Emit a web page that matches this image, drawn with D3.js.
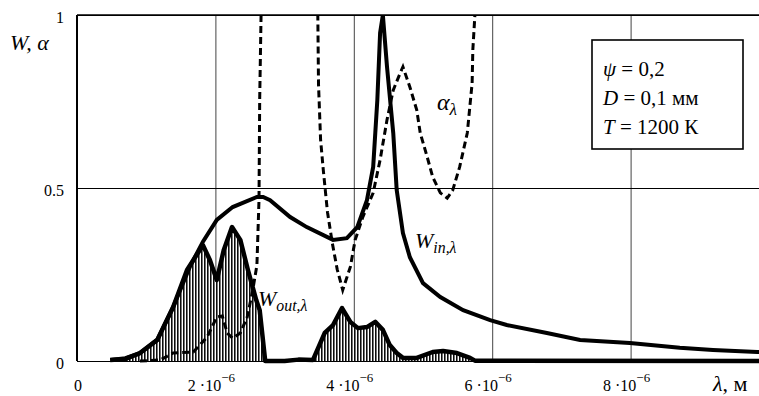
<!DOCTYPE html>
<html>
<head>
<meta charset="utf-8">
<script src="https://cdn.jsdelivr.net/npm/d3@7"></script>
<style>
  body { margin: 0; background: #fff; }
  svg { display: block; }
</style>
</head>
<body>
<svg id="chart" width="759" height="396"></svg>
<script>
// wavelength in micrometres (axis labels show k·10^-6 m)
const lambdaIn = [0.48, 0.7, 0.91, 1.16, 1.39, 1.63, 1.82, 2.02, 2.25, 2.6, 2.69, 2.79, 3.08, 3.32, 3.7, 3.9, 4.05, 4.19, 4.28, 4.34, 4.38, 4.42, 4.48, 4.57, 4.62, 4.71, 4.81, 5.0, 5.25, 5.58, 5.97, 6.21, 6.79, 7.27, 7.99, 8.71, 9.19, 9.83, 9.9];
const wIn = [0.003, 0.008, 0.023, 0.061, 0.156, 0.272, 0.345, 0.408, 0.445, 0.474, 0.474, 0.465, 0.416, 0.387, 0.35, 0.355, 0.387, 0.465, 0.561, 0.754, 0.948, 1.0, 0.85, 0.659, 0.494, 0.37, 0.3, 0.225, 0.185, 0.147, 0.118, 0.104, 0.081, 0.061, 0.052, 0.038, 0.032, 0.026, 0.026];

const lambdaOut = [0.48, 0.7, 0.91, 1.16, 1.39, 1.59, 1.82, 1.92, 2.02, 2.12, 2.24, 2.36, 2.47, 2.59, 2.64, 2.72, 3.0, 3.2, 3.41, 3.58, 3.7, 3.83, 3.95, 4.06, 4.19, 4.31, 4.42, 4.52, 4.62, 4.71, 4.91, 5.14, 5.29, 5.49, 5.68, 5.75, 9.9];
const wOut = [0.003, 0.006, 0.023, 0.061, 0.156, 0.263, 0.335, 0.292, 0.234, 0.32, 0.387, 0.35, 0.263, 0.176, 0.147, 0, 0, 0.004, 0.003, 0.081, 0.104, 0.153, 0.113, 0.095, 0.098, 0.113, 0.09, 0.046, 0.023, 0.009, 0.009, 0.026, 0.029, 0.023, 0.009, 0.001, 0];

// alpha leaves the frame between the two branches (null = gap)
const lambdaAlpha = [0.91, 1.2, 1.39, 1.68, 1.88, 2.02, 2.1, 2.17, 2.25, 2.36, 2.46, 2.54, 2.6, 2.63, 2.64, 2.66, 2.68, 3.0,
  3.47, 3.48, 3.49, 3.52, 3.56, 3.62, 3.69, 3.76, 3.84, 3.95, 4.02, 4.13, 4.28, 4.38, 4.48, 4.57, 4.67, 4.71, 4.81, 4.91, 4.96, 5.06, 5.14, 5.25, 5.35, 5.43, 5.53, 5.64, 5.71, 5.72, 5.75, 5.76];
const alpha = [0, 0.003, 0.023, 0.026, 0.069, 0.127, 0.13, 0.081, 0.066, 0.081, 0.127, 0.205, 0.277, 0.465, 0.754, 1.0, 1.1, null,
  1.1, 1.0, 0.8, 0.64, 0.55, 0.43, 0.34, 0.265, 0.205, 0.272, 0.35, 0.416, 0.486, 0.581, 0.697, 0.783, 0.832, 0.85, 0.792, 0.725, 0.659, 0.59, 0.532, 0.486, 0.471, 0.494, 0.561, 0.659, 0.803, 0.899, 1.0, 1.1];

const xTicks = [0, 2, 4, 6, 8];
const xTickLabels = ["0", "2 ·10", "4 ·10", "6 ·10", "8 ·10"];
const xTickExp = ["", "−6", "−6", "−6", "−6"];
const yTicks = [0, 0.5, 1];
const yTickLabels = ["0", "0.5", "1"];

const svg = d3.select("#chart")
  .style("font-family", "'Liberation Serif', 'Times New Roman', serif");
const plotLeft = 77, plotTop = 15, plotBottom = 361, plotRight = 759;

const x = d3.scaleLinear().domain([0, 10]).range([plotLeft, plotLeft + 692]);
const y = d3.scaleLinear().domain([0, 1]).range([plotBottom, plotTop]);

const defs = svg.append("defs");
// a little room below zero so the thick baseline strokes are not halved
defs.append("clipPath").attr("id", "plotClip")
  .append("rect").attr("x", plotLeft).attr("y", plotTop)
  .attr("width", plotRight - plotLeft).attr("height", plotBottom - plotTop + 3);

const hatch = defs.append("pattern")
  .attr("id", "hatch").attr("patternUnits", "userSpaceOnUse")
  .attr("width", 3).attr("height", 10);
hatch.append("rect").attr("width", 3).attr("height", 10).attr("fill", "#fff");
hatch.append("line").attr("x1", 0.8).attr("x2", 0.8).attr("y1", 0).attr("y2", 10)
  .attr("stroke", "#000").attr("stroke-width", 1.5);

// grid
svg.append("g")
  .attr("transform", `translate(0,${plotBottom})`)
  .call(d3.axisBottom(x).tickValues(xTicks).tickSize(-(plotBottom - plotTop)).tickFormat(""))
  .call(g => g.select(".domain").remove())
  .call(g => g.selectAll(".tick line").attr("stroke", "#444").attr("stroke-width", 1));

svg.append("g")
  .attr("transform", `translate(${plotLeft},0)`)
  .call(d3.axisLeft(y).tickValues(yTicks).tickSize(-(plotRight - plotLeft)).tickFormat(""))
  .call(g => g.select(".domain").remove())
  .call(g => g.selectAll(".tick line").attr("stroke", "#000").attr("stroke-width", 1.2));

svg.append("line").attr("x1", plotLeft).attr("x2", plotRight).attr("y1", plotTop).attr("y2", plotTop)
  .attr("stroke", "#000").attr("stroke-width", 1.6);
svg.append("line").attr("x1", plotLeft).attr("x2", plotLeft).attr("y1", plotTop).attr("y2", plotBottom)
  .attr("stroke", "#000").attr("stroke-width", 2);

const plot = svg.append("g").attr("clip-path", "url(#plotClip)");

const outData = lambdaOut.map((l, i) => [l, wOut[i]]);
plot.append("path")
  .datum(outData)
  .attr("fill", "url(#hatch)")
  .attr("d", d3.area().x(d => x(d[0])).y0(y(0)).y1(d => y(d[1])));

plot.append("path")
  .datum(lambdaAlpha.map((l, i) => [l, alpha[i]]))
  .attr("fill", "none").attr("stroke", "#000")
  .attr("stroke-width", 3).attr("stroke-dasharray", "7,4")
  .attr("d", d3.line().defined(d => d[1] !== null).x(d => x(d[0])).y(d => y(d[1])));

plot.append("path")
  .datum(outData)
  .attr("fill", "none").attr("stroke", "#000").attr("stroke-width", 4.5)
  .attr("stroke-linejoin", "round")
  .attr("d", d3.line().x(d => x(d[0])).y(d => y(d[1])));

plot.append("path")
  .datum(lambdaIn.map((l, i) => [l, wIn[i]]))
  .attr("fill", "none").attr("stroke", "#000").attr("stroke-width", 4)
  .attr("stroke-linejoin", "miter")
  .attr("d", d3.line().x(d => x(d[0])).y(d => y(d[1])));

// tick labels
svg.append("g").selectAll("text")
  .data(yTicks)
  .join("text")
  .attr("x", 64).attr("y", d => y(d) + 8)
  .attr("text-anchor", "end").attr("font-size", 16)
  .text((d, i) => yTickLabels[i]);

const xl = svg.append("g").selectAll("text")
  .data(xTicks)
  .join("text")
  .attr("x", (d, i) => i === 0 ? x(d) + 1 : x(d) - 4)
  .attr("y", 391)
  .attr("text-anchor", "middle").attr("font-size", 16);
xl.append("tspan").text((d, i) => xTickLabels[i]);
xl.append("tspan").attr("dy", -9).attr("font-size", 13).text((d, i) => xTickExp[i]);

// axis titles
svg.append("text").attr("x", 10).attr("y", 50).attr("font-size", 22).attr("font-style", "italic")
  .text("W, α");
const xt = svg.append("text").attr("x", 713).attr("y", 391).attr("font-size", 22);
xt.append("tspan").attr("font-style", "italic").text("λ");
xt.append("tspan").text(", м");

// curve labels
const addLabel = (lx, ly, main, sub, size) => {
  const t = svg.append("text").attr("x", lx).attr("y", ly).attr("font-style", "italic").attr("font-size", size);
  t.append("tspan").text(main);
  t.append("tspan").attr("dy", 5).attr("font-size", size * 0.72).text(sub);
};
addLabel(415, 248, "W", "in,λ", 22);
addLabel(258, 306, "W", "out,λ", 22);
addLabel(437, 110, "α", "λ", 24);

// parameters box
svg.append("rect").attr("x", 592).attr("y", 40).attr("width", 151).attr("height", 109)
  .attr("fill", "#fff").attr("stroke", "#000").attr("stroke-width", 1.6);
const params = [["ψ", " = 0,2"], ["D", " = 0,1 мм"], ["T", " = 1200 К"]];
params.forEach((p, i) => {
  const t = svg.append("text").attr("x", 603).attr("y", 76 + i * 29).attr("font-size", 21);
  t.append("tspan").attr("font-style", "italic").text(p[0]);
  t.append("tspan").text(p[1]);
});
</script>
</body>
</html>
